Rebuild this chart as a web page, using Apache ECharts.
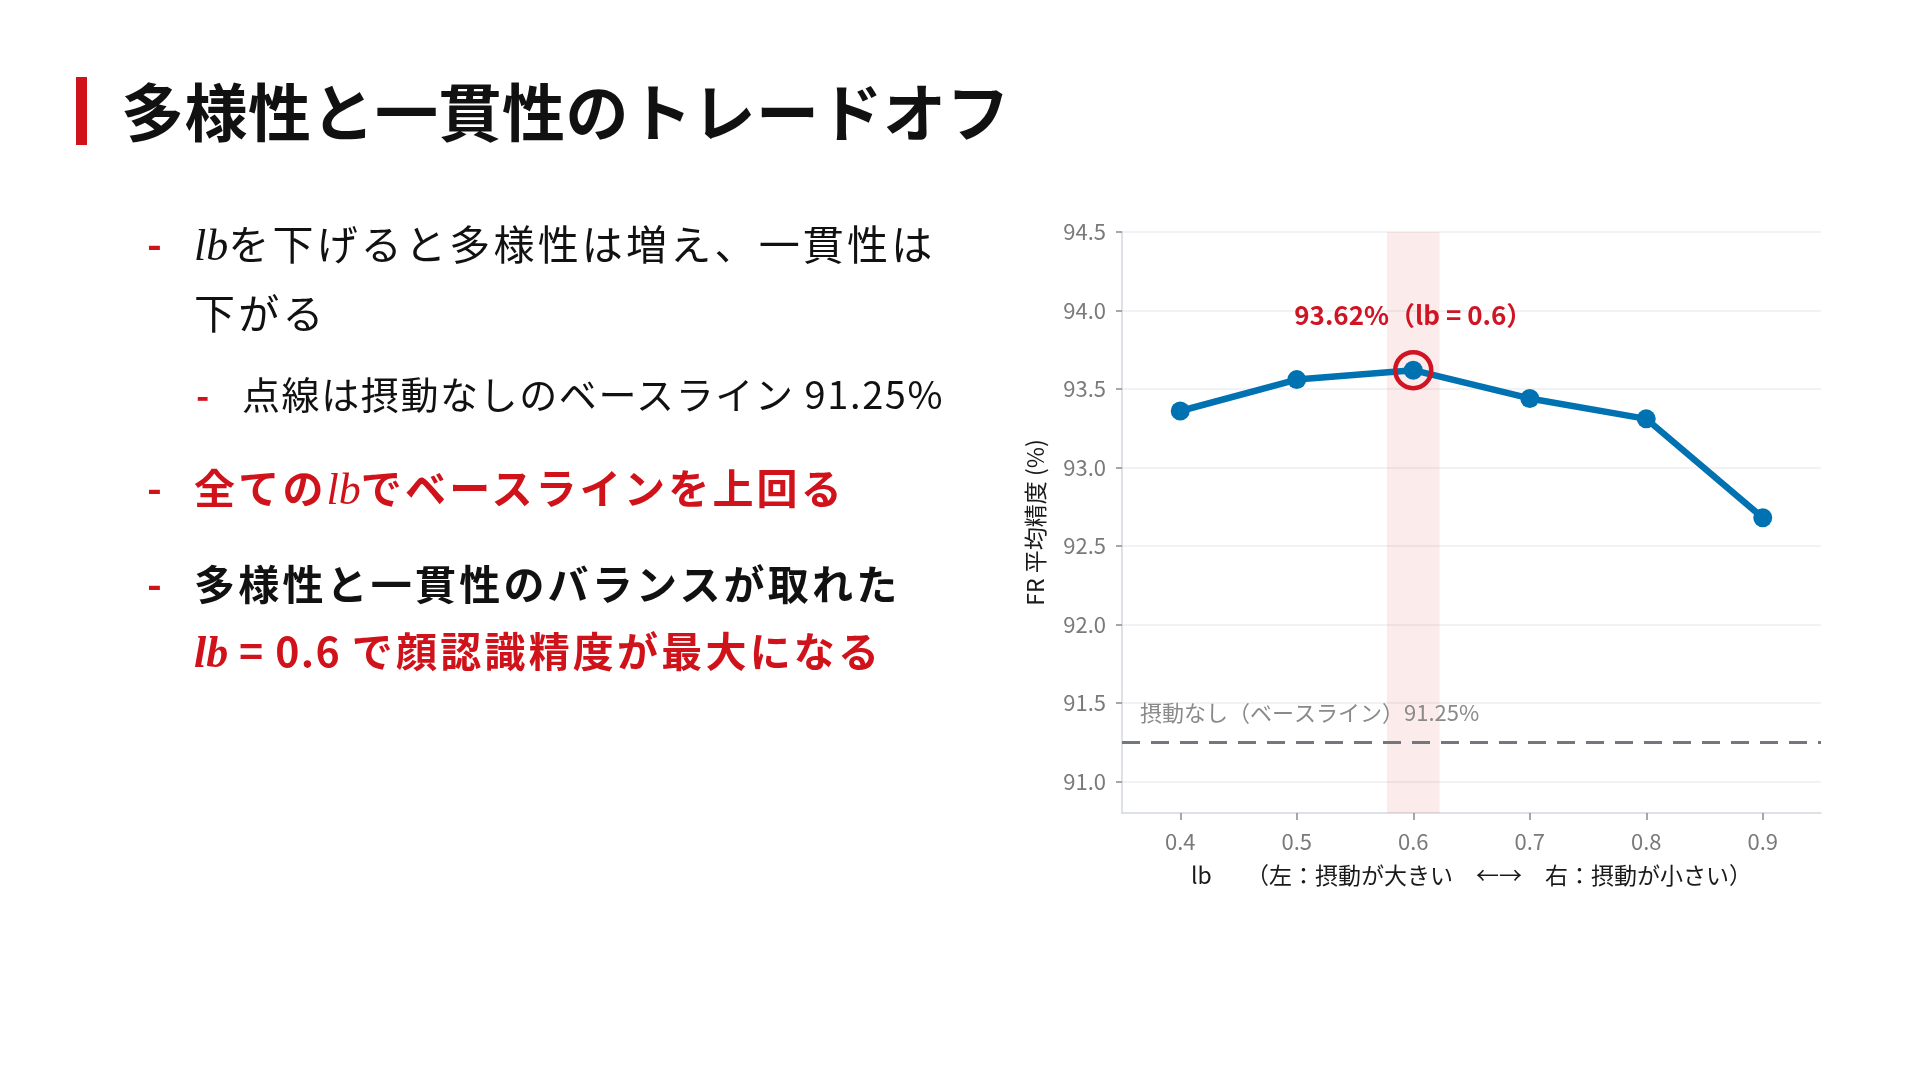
<!DOCTYPE html>
<html lang="ja">
<head>
<meta charset="utf-8">
<title>多様性と一貫性のトレードオフ</title>
<script src="https://cdn.jsdelivr.net/npm/echarts@6/dist/echarts.min.js"></script>
<style>
  html, body { margin: 0; padding: 0; background: #fff; }
  body {
    width: 1920px; height: 1082px; position: relative; overflow: hidden;
    font-family: "Noto Sans CJK JP", "Noto Sans", sans-serif; color: #111;
  }
  #chart { position: absolute; left: 0; top: 0; width: 1920px; height: 1082px; }
  .bar { position: absolute; left: 76px; top: 77px; width: 11px; height: 68px; background: #d0121b; }
  .title { position: absolute; left: 121px; top: 76px; font-size: 63px; font-weight: 700; line-height: 66px; letter-spacing: 0.5px; white-space: nowrap; }
  .ln { position: absolute; white-space: nowrap; height: 50px; line-height: 50px; font-size: 41px; letter-spacing: 3.2px; }
  .dash { position: absolute; height: 50px; line-height: 50px; font-size: 40px; font-weight: 700; color: #d0121b; }
  .red { color: #d0121b; }
  .b { font-weight: 700; }
  .m { font-family: "Liberation Serif", "DejaVu Serif", serif; font-style: italic; font-size: 44px; letter-spacing: 0; }
  .nb { font-weight: 400; }
  .tight { letter-spacing: 1.4px; }
  .sub { font-size: 38px; letter-spacing: 1.6px; }
</style>
</head>
<body>
<div id="chart"></div>

<div class="bar"></div>
<div class="title">多様性と一貫性のトレードオフ</div>

<div class="dash" style="left:147px;top:217px;">-</div>
<div class="ln" style="left:194px;top:217px;"><span class="m">lb</span>を下げると多様性は増え、一貫性は</div>
<div class="ln" style="left:194px;top:286px;">下がる</div>

<div class="dash" style="left:196px;top:368px;font-size:36px;">-</div>
<div class="ln sub" style="left:242px;top:368px;">点線は摂動なしのベースライン 91.25%</div>

<div class="dash" style="left:147px;top:461px;">-</div>
<div class="ln red b" style="left:194px;top:461px;">全ての<span class="m nb">lb</span>でベースラインを上回る</div>

<div class="dash" style="left:147px;top:557px;">-</div>
<div class="ln b" style="left:194px;top:557px;">多様性と一貫性のバランスが取れた</div>
<div class="ln red b" style="left:194px;top:624px;"><span class="m">lb</span><span class="tight"> = 0.6 </span>で顔認識精度が最大になる</div>

<script>
// データ
const lbValues = [0.4, 0.5, 0.6, 0.7, 0.8, 0.9];
const frAccuracy = [93.36, 93.56, 93.62, 93.44, 93.31, 92.68];
const yTicks = [91.0, 91.5, 92.0, 92.5, 93.0, 93.5, 94.0, 94.5];
const baseline = 91.25;
const bestLb = 0.6;
const bestAcc = 93.62;
const bandRange = [0.5775, 0.6225];

const blue = '#0072B2';
const red = '#cf1424';
const font = '"Noto Sans CJK JP", "Noto Sans", sans-serif';

let seriesData = lbValues.map((x, i) => [x, frAccuracy[i]]);

let myChart = echarts.init(document.getElementById('chart'));
let option = {
    animation: false,
    textStyle: { fontFamily: font },
    grid: { left: 1122, top: 232, width: 699, height: 581, containLabel: false },
    xAxis: {
        type: 'value',
        min: 0.35,
        max: 0.95,
        name: 'lb　　（左：摂動が大きい　←→　右：摂動が小さい）',
        nameLocation: 'middle',
        nameGap: 51,
        nameTextStyle: { fontSize: 23, color: '#1a1a1a', fontFamily: font },
        axisLine: { onZero: false, lineStyle: { color: '#d3d7de', width: 1.5 } },
        axisTick: { customValues: lbValues, length: 7, lineStyle: { color: '#8a8a8a', width: 1.5 } },
        axisLabel: {
            customValues: lbValues,
            formatter: v => v.toFixed(1),
            fontSize: 22, color: '#7a7a7a', margin: 18, fontFamily: font
        },
        splitLine: { show: false }
    },
    yAxis: {
        type: 'value',
        min: 90.8,
        max: 94.5,
        name: 'FR 平均精度 (%)',
        nameLocation: 'middle',
        nameRotate: 90,
        nameGap: 75,
        nameTextStyle: { fontSize: 23, color: '#1a1a1a', fontFamily: font },
        axisLine: { show: true, onZero: false, lineStyle: { color: '#d3d7de', width: 1.5 } },
        axisTick: { show: true, customValues: yTicks, length: 6, lineStyle: { color: '#8a8a8a', width: 1.5 } },
        axisLabel: {
            customValues: yTicks,
            formatter: v => v.toFixed(1),
            fontSize: 22, color: '#7a7a7a', margin: 16, fontFamily: font
        },
        splitLine: { show: true, lineStyle: { color: '#eceef2', width: 1.5 } }
    },
    series: [
        {
            name: 'FR平均精度',
            type: 'line',
            data: seriesData,
            symbol: 'circle',
            symbolSize: 19,
            lineStyle: { color: blue, width: 6.5 },
            itemStyle: { color: blue },
            emphasis: { disabled: true },
            markArea: {
                silent: true,
                itemStyle: { color: 'rgba(232, 70, 70, 0.11)' },
                data: [[{ xAxis: bandRange[0] }, { xAxis: bandRange[1] }]]
            },
            markLine: {
                silent: true,
                symbol: ['none', 'none'],
                lineStyle: { color: '#74777e', width: 3, type: [18, 11] },
                label: {
                    show: true,
                    position: 'insideStartTop',
                    distance: [18, 19],
                    formatter: '摂動なし（ベースライン）' + baseline.toFixed(2) + '%',
                    color: '#8a8a8a',
                    fontSize: 22,
                    fontFamily: font
                },
                emphasis: { disabled: true },
                data: [{ yAxis: baseline }]
            },
            markPoint: {
                silent: true,
                symbol: 'circle',
                symbolSize: 36,
                itemStyle: { color: 'rgba(0,0,0,0)', borderColor: red, borderWidth: 4.5 },
                label: {
                    show: true,
                    position: 'top',
                    distance: 22,
                    formatter: bestAcc.toFixed(2) + '%（lb = ' + bestLb + '）',
                    color: red,
                    fontSize: 26,
                    fontWeight: 'bold',
                    fontFamily: font
                },
                emphasis: { disabled: true },
                data: [{ coord: [bestLb, bestAcc] }]
            }
        }
    ]
};
myChart.setOption(option);
</script>
</body>
</html>
